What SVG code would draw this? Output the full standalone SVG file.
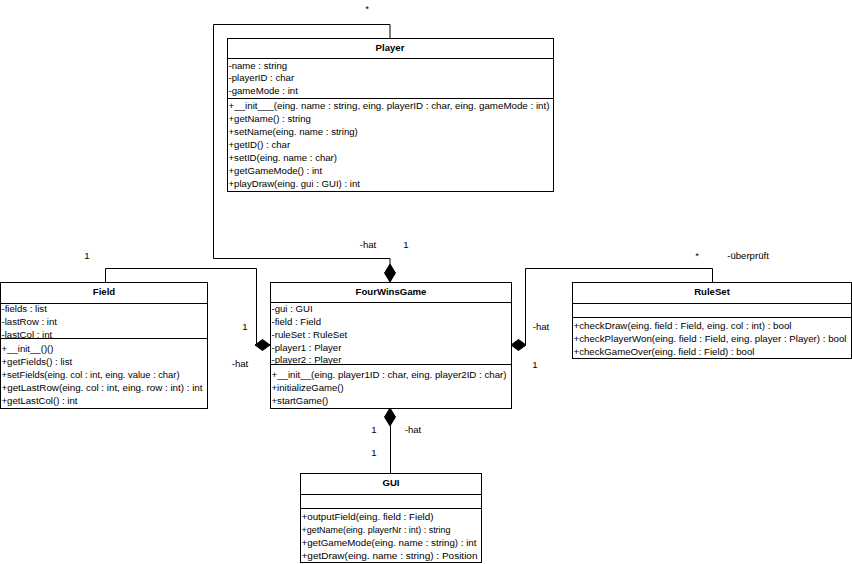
<svg xmlns="http://www.w3.org/2000/svg" width="852" height="564" viewBox="0 0 852 564">
<style>
text{font-family:"Liberation Sans",Arial,sans-serif;font-size:9.6px;fill:#000}
.t{font-weight:bold;text-anchor:middle}
.l{text-anchor:middle}
.box{fill:#fff;stroke:#000;stroke-width:1}
.ln{stroke:#000;stroke-width:1;fill:none}
.dia{fill:#000;stroke:#000;stroke-width:1}
</style>
<rect width="852" height="564" fill="#fff"/>
<g id="connectors">
<polyline class="ln" points="390,38 390,24.5 213.5,24.5 213.5,258.5 390,258.5 390,264"/>
<polygon class="dia" points="390,264 395.5,273 390,282 384.5,273"/>
<polyline class="ln" points="105.5,282 105.5,268.5 256.5,268.5 256.5,345 255,345"/>
<polygon class="dia" points="255,345 262.5,339.5 270,345 262.5,350.5"/>
<polyline class="ln" points="526,345 525.5,345 525.5,268.5 712.5,268.5 712.5,282"/>
<polygon class="dia" points="511,345 518.5,339.5 526,345 518.5,350.5"/>
<polygon class="dia" points="390,408 395.5,417 390,426 384.5,417"/>
<line class="ln" x1="390.5" y1="426" x2="390.5" y2="473"/>
<text class="l" x="367" y="12">*</text>
<text class="l" x="368" y="247.5">-hat</text>
<text class="l" x="406" y="247.5">1</text>
<text class="l" x="87" y="258.5">1</text>
<text class="l" x="245" y="329.5">1</text>
<text class="l" x="240" y="366.5">-hat</text>
<text class="l" x="697" y="258.5">*</text>
<text class="l" x="748" y="258.5">-überprüft</text>
<text class="l" x="541" y="329.5">-hat</text>
<text class="l" x="535" y="367.5">1</text>
<text class="l" x="374" y="432.5">1</text>
<text class="l" x="413" y="432.5">-hat</text>
<text class="l" x="374" y="455.5">1</text>
</g>
<g id="player">
<rect class="box" x="227.5" y="38.5" width="326" height="153"/>
<line class="ln" x1="227.5" y1="58.5" x2="553.5" y2="58.5"/>
<line class="ln" x1="227.5" y1="98.5" x2="553.5" y2="98.5"/>
<text class="t" x="390" y="51">Player</text>
<text x="228.5" y="68.5">-name : string</text>
<text x="228.5" y="81">-playerID : char</text>
<text x="228.5" y="93.5">-gameMode : int</text>
<text x="228.5" y="108.5" textLength="321" lengthAdjust="spacingAndGlyphs">+__init___(eing. name : string, eing. playerID : char, eing. gameMode : int)</text>
<text x="228.5" y="121.5">+getName() : string</text>
<text x="228.5" y="134.5">+setName(eing. name : string)</text>
<text x="228.5" y="147.5">+getID() : char</text>
<text x="228.5" y="160.5">+setID(eing. name : char)</text>
<text x="228.5" y="173.5">+getGameMode() : int</text>
<text x="228.5" y="186.5">+playDraw(eing. gui : GUI) : int</text>
</g>
<g id="field">
<rect class="box" x="0.5" y="282.5" width="207" height="126"/>
<line class="ln" x1="0.5" y1="303.5" x2="207.5" y2="303.5"/>
<line class="ln" x1="0.5" y1="338.5" x2="207.5" y2="338.5"/>
<text class="t" x="104" y="295">Field</text>
<text x="1.5" y="312">-fields : list</text>
<text x="1.5" y="325">-lastRow : int</text>
<text x="1.5" y="337.5">-lastCol : int</text>
<text x="1.5" y="351.5">+__init__()()</text>
<text x="1.5" y="364.5">+getFields() : list</text>
<text x="1.5" y="377.5" textLength="178" lengthAdjust="spacingAndGlyphs">+setFields(eing. col : int, eing. value : char)</text>
<text x="1.5" y="390.5" textLength="201" lengthAdjust="spacingAndGlyphs">+getLastRow(eing. col : int, eing. row : int) : int</text>
<text x="1.5" y="403.5">+getLastCol() : int</text>
</g>
<g id="fourwinsgame">
<rect class="box" x="270.5" y="282.5" width="241" height="126"/>
<line class="ln" x1="270.5" y1="302.5" x2="511.5" y2="302.5"/>
<line class="ln" x1="270.5" y1="364.5" x2="511.5" y2="364.5"/>
<text class="t" x="391" y="295">FourWinsGame</text>
<text x="271.5" y="312">-gui : GUI</text>
<text x="271.5" y="325">-field : Field</text>
<text x="271.5" y="338">-ruleSet : RuleSet</text>
<text x="271.5" y="351">-player1 : Player</text>
<text x="271.5" y="362.5">-player2 : Player</text>
<text x="271.5" y="377.5" textLength="235" lengthAdjust="spacingAndGlyphs">+__init__(eing. player1ID : char, eing. player2ID : char)</text>
<text x="271.5" y="390.5">+initializeGame()</text>
<text x="271.5" y="403.5">+startGame()</text>
</g>
<g id="ruleset">
<rect class="box" x="572.5" y="282.5" width="279" height="76"/>
<line class="ln" x1="572.5" y1="303.5" x2="851.5" y2="303.5"/>
<line class="ln" x1="572.5" y1="317.5" x2="851.5" y2="317.5"/>
<text class="t" x="712" y="295">RuleSet</text>
<text x="573.5" y="328.5" textLength="218" lengthAdjust="spacingAndGlyphs">+checkDraw(eing. field : Field, eing. col : int) : bool</text>
<text x="573.5" y="341.5" textLength="273" lengthAdjust="spacingAndGlyphs">+checkPlayerWon(eing. field : Field, eing. player : Player) : bool</text>
<text x="573.5" y="354.5" textLength="181" lengthAdjust="spacingAndGlyphs">+checkGameOver(eing. field : Field) : bool</text>
</g>
<g id="gui">
<rect class="box" x="300.5" y="473.5" width="181" height="89"/>
<line class="ln" x1="300.5" y1="494.5" x2="481.5" y2="494.5"/>
<line class="ln" x1="300.5" y1="508.5" x2="481.5" y2="508.5"/>
<text class="t" x="391" y="486">GUI</text>
<text x="301.5" y="519.5" textLength="132" lengthAdjust="spacingAndGlyphs">+outputField(eing. field : Field)</text>
<text x="301.5" y="532.5" textLength="149" lengthAdjust="spacingAndGlyphs">+getName(eing. playerNr : int) : string</text>
<text x="301.5" y="545.5" textLength="175" lengthAdjust="spacingAndGlyphs">+getGameMode(eing. name : string) : int</text>
<text x="301.5" y="558.5" textLength="176" lengthAdjust="spacingAndGlyphs">+getDraw(eing. name : string) : Position</text>
</g>
</svg>
